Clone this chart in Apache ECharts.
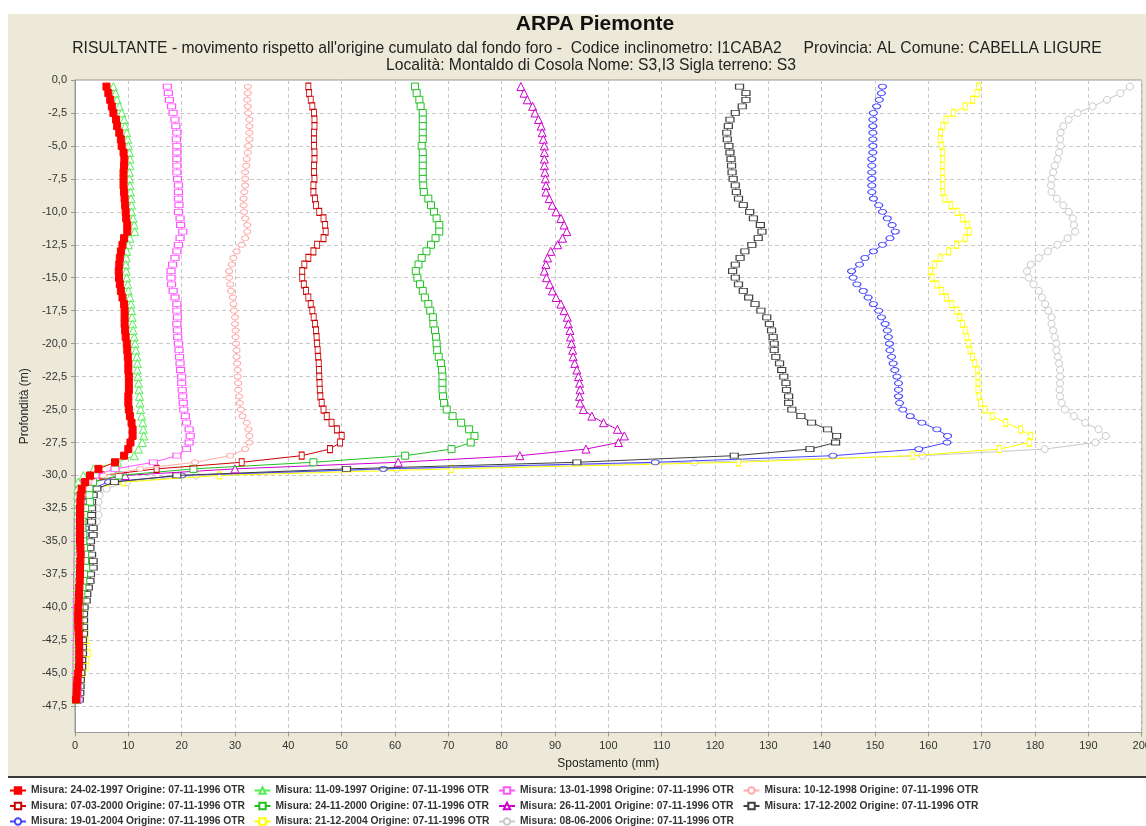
<!DOCTYPE html>
<html><head><meta charset="utf-8">
<script src="https://cdn.jsdelivr.net/npm/echarts@6/dist/echarts.min.js"></script>
<style>
html,body{margin:0;padding:0;background:#fff;overflow:hidden}
#panel{position:absolute;left:8px;top:14px;width:1146px;height:762px;background:#ECE9D8;border-bottom:2px solid #3a3a3a}
#c{position:absolute;left:0;top:0;width:1146px;height:826px}
</style>
</head><body><div id="panel"></div><div id="c"></div>
<script>
// depth of each reading (m)
const depths = [-0.5,-1.0,-1.5,-2.0,-2.5,-3.0,-3.5,-4.0,-4.5,-5.0,-5.5,-6.0,-6.5,-7.0,-7.5,-8.0,-8.5,-9.0,-9.5,-10.0,
-10.5,-11.0,-11.5,-12.0,-12.5,-13.0,-13.5,-14.0,-14.5,-15.0,-15.5,-16.0,-16.5,-17.0,-17.5,-18.0,-18.5,-19.0,-19.5,-20.0,
-20.5,-21.0,-21.5,-22.0,-22.5,-23.0,-23.5,-24.0,-24.5,-25.0,-25.5,-26.0,-26.5,-27.0,-27.5,-28.0,-28.5,-29.0,-29.5,-30.0,
-30.5,-31.0,-31.5,-32.0,-32.5,-33.0,-33.5,-34.0,-34.5,-35.0,-35.5,-36.0,-36.5,-37.0,-37.5,-38.0,-38.5,-39.0,-39.5,-40.0,
-40.5,-41.0,-41.5,-42.0,-42.5,-43.0,-43.5,-44.0,-44.5,-45.0,-45.5,-46.0,-46.5,-47.0];

const seriesNames = [
 'Misura: 24-02-1997 Origine: 07-11-1996 OTR','Misura: 11-09-1997 Origine: 07-11-1996 OTR',
 'Misura: 13-01-1998 Origine: 07-11-1996 OTR','Misura: 10-12-1998 Origine: 07-11-1996 OTR',
 'Misura: 07-03-2000 Origine: 07-11-1996 OTR','Misura: 24-11-2000 Origine: 07-11-1996 OTR',
 'Misura: 26-11-2001 Origine: 07-11-1996 OTR','Misura: 17-12-2002 Origine: 07-11-1996 OTR',
 'Misura: 19-01-2004 Origine: 07-11-1996 OTR','Misura: 21-12-2004 Origine: 07-11-1996 OTR',
 'Misura: 08-06-2006 Origine: 07-11-1996 OTR'];

const m19970224 = [5.9,6.25,6.6,6.9,7.2,7.7,7.9,8.3,8.6,8.75,9.1,9.25,9.2,9.1,9.1,9.1,9.2,9.3,9.4,9.5,
9.6,9.8,9.8,9.2,8.9,8.6,8.4,8.3,8.2,8.25,8.4,8.6,8.9,9.2,9.3,9.3,9.3,9.4,9.5,9.7,
9.8,9.9,10.0,10.0,10.1,10.1,10.1,10.0,10.0,10.1,10.3,10.6,10.8,10.8,10.4,10.0,9.2,7.5,4.4,2.8,
1.9,1.25,1.06,1.0,0.94,0.94,0.94,0.94,0.94,0.94,1.0,1.06,1.0,0.94,0.94,0.88,0.8,0.75,0.7,0.62,
0.6,0.6,0.62,0.7,0.75,0.8,0.8,0.8,0.75,0.6,0.45,0.35,0.3,0.2];
const m19970911 = [7.2,7.6,7.9,8.3,8.75,9.2,9.4,9.7,9.9,10.0,10.2,10.3,10.3,10.2,10.2,10.3,10.4,10.5,10.6,10.6,
10.9,11.1,11.2,10.3,10.0,9.7,9.6,9.5,9.6,9.7,9.9,10.0,10.3,10.5,10.6,10.7,10.8,10.9,11.1,11.25,
11.4,11.6,11.7,11.7,11.8,11.9,12.0,12.1,12.2,12.3,12.5,12.7,12.8,12.9,12.6,11.9,11.1,8.0,3.5,1.56,
0.6,0.5,0.45,0.45,0.45,0.45,0.5,0.5,0.5,0.5,0.5,0.5,0.5,0.45,0.45,0.4,0.4,0.4,0.4,0.35,
0.35,0.35,0.35,0.35,0.35,0.35,0.35,0.3,0.3,0.3,0.25,0.25,0.2,0.2];
const m19980113 = [17.3,17.5,17.7,18.1,18.4,18.75,18.9,19.1,19.0,19.1,19.1,19.1,19.1,19.1,19.2,19.4,19.4,19.4,19.5,19.4,
19.7,19.8,20.2,19.7,19.4,19.1,18.75,18.3,18.0,18.0,18.1,18.4,18.75,19.1,19.1,19.2,19.1,19.2,19.25,19.4,
19.5,19.6,19.7,19.8,20.0,20.0,20.1,20.2,20.3,20.4,20.7,20.9,21.4,21.6,21.4,20.9,19.1,14.7,7.5,3.75,
1.8,1.0,0.8,0.7,0.7,0.65,0.6,0.6,0.6,0.6,0.6,0.6,0.55,0.55,0.5,0.5,0.5,0.5,0.45,0.45,
0.45,0.45,0.45,0.45,0.45,0.4,0.4,0.4,0.4,0.4,0.35,0.35,0.35,0.3];
const m19981210 = [32.4,32.4,32.3,32.4,32.5,32.7,32.7,32.7,32.7,32.5,32.4,32.2,32.1,31.9,31.9,31.9,31.75,31.6,31.6,31.7,
31.9,32.3,32.3,31.9,31.25,30.3,29.7,29.4,28.9,28.9,29.1,29.25,29.6,29.7,29.8,30.0,30.0,30.1,30.1,30.2,
30.3,30.3,30.4,30.5,30.5,30.6,30.6,30.75,30.9,31.1,31.4,32.2,32.5,32.7,32.7,31.9,29.1,22.5,12.2,5.3,
2.5,1.5,1.3,1.2,1.2,1.2,1.15,1.1,1.1,1.1,1.1,1.1,1.05,1.0,1.0,0.95,0.9,0.9,0.85,0.85,
0.8,0.8,0.8,0.8,0.8,0.75,0.7,0.7,0.65,0.6,0.55,0.5,0.45,0.4];
const m20000307 = [43.75,43.9,44.2,44.5,44.8,44.9,44.9,44.8,44.8,44.8,44.9,44.9,44.8,44.8,44.9,44.7,44.7,45.0,45.2,45.8,
46.6,46.9,47.0,46.6,45.4,44.7,43.75,43.0,42.6,42.6,42.9,43.3,43.75,44.2,44.5,44.75,45.0,45.2,45.3,45.4,
45.5,45.6,45.7,45.75,45.8,45.85,45.9,46.0,46.25,46.6,47.2,48.1,49.1,50.0,49.7,47.8,42.5,31.25,15.3,5.0,
2.0,1.4,1.2,1.1,1.1,1.1,1.05,1.0,1.0,1.0,1.0,1.0,1.0,0.95,0.9,0.9,0.9,0.85,0.85,0.8,
0.8,0.8,0.75,0.75,0.75,0.7,0.7,0.65,0.6,0.55,0.5,0.45,0.4,0.35];
const m20001124 = [63.75,64.06,64.56,64.8,65.2,65.2,65.2,65.2,65.2,65.0,65.2,65.2,65.2,65.2,65.2,65.3,65.4,66.25,66.75,67.3,
67.8,68.3,68.3,67.6,66.75,65.9,65.0,64.4,63.9,64.2,64.7,65.2,65.6,66.25,66.6,67.1,67.2,67.5,67.7,67.8,
67.9,68.2,68.6,68.8,68.9,68.9,68.9,69.0,69.2,69.7,70.8,72.4,73.9,74.9,74.2,70.6,61.9,44.7,22.2,8.2,
3.4,2.7,2.7,2.8,1.9,1.7,1.4,1.4,1.56,1.56,1.7,1.9,1.9,2.1,1.7,1.56,1.4,1.2,1.0,0.9,
0.85,0.8,0.8,0.75,0.75,0.7,0.7,0.65,0.6,0.55,0.5,0.45,0.4,0.35];
const m20011126 = [83.6,84.2,84.8,85.8,86.25,86.9,87.4,87.6,87.8,88.0,88.0,88.0,88.0,88.1,88.2,88.3,88.3,88.9,89.5,90.2,
91.1,91.7,92.2,91.4,90.5,89.2,88.6,88.3,88.0,88.4,89.0,89.5,90.2,91.1,91.7,92.3,92.5,92.8,92.9,93.1,
93.3,93.4,93.7,94.1,94.4,94.6,94.7,94.6,94.7,95.3,96.9,99.1,101.7,103.0,101.9,95.8,83.4,60.6,30.0,9.4,
3.0,1.6,1.3,1.2,1.1,1.1,1.0,1.0,1.0,1.0,1.0,0.95,0.95,0.9,0.9,0.85,0.85,0.8,0.8,0.8,
0.75,0.75,0.7,0.7,0.7,0.65,0.65,0.6,0.6,0.55,0.5,0.45,0.45,0.4];
const m20021217 = [124.6,125.8,125.8,125.1,123.8,122.8,122.5,122.2,122.3,122.6,122.8,123.0,123.1,123.2,123.4,123.8,124.0,124.4,125.3,126.5,
127.2,128.5,128.8,128.1,126.9,125.6,124.7,123.8,123.3,123.8,124.4,125.3,126.3,127.5,128.6,129.7,130.2,130.6,130.9,131.1,
131.1,131.4,132.1,132.5,132.9,133.3,133.4,133.8,133.8,134.4,136.1,138.1,141.1,142.8,142.6,137.8,123.6,94.1,50.9,19.1,
7.4,4.1,3.4,3.1,3.1,3.1,3.1,3.4,3.4,2.9,2.8,3.1,3.4,3.4,2.9,2.8,2.5,2.2,2.1,1.7,
1.6,1.6,1.6,1.6,1.4,1.4,1.4,1.25,1.25,1.1,1.0,0.95,0.9,0.8];
const m20040119 = [151.4,151.2,150.8,150.3,149.7,149.6,149.6,149.6,149.6,149.6,149.6,149.4,149.4,149.4,149.4,149.4,149.4,149.7,150.7,151.4,
152.3,153.2,153.8,152.8,151.4,149.7,148.1,147.1,145.6,145.9,146.6,147.8,148.7,149.7,150.7,151.2,151.9,152.3,152.5,152.7,
152.8,153.1,153.4,153.7,154.1,154.4,154.4,154.4,154.6,155.2,156.6,158.8,161.6,163.6,163.5,158.2,142.1,108.8,57.8,20.0,
6.3,3.2,2.6,2.3,2.1,2.0,1.9,1.9,1.9,1.8,1.8,1.8,1.8,1.7,1.7,1.6,1.5,1.4,1.3,1.2,
1.1,1.1,1.0,1.0,0.95,0.9,0.85,0.8,0.75,0.7,0.65,0.6,0.55,0.5];
const m20041221 = [169.4,169.1,168.3,166.9,164.7,163.3,162.7,162.3,162.2,162.5,162.7,162.7,162.6,162.6,162.7,162.7,162.7,163.1,164.2,165.4,
166.4,167.3,167.7,166.9,165.3,163.8,162.2,161.1,160.4,160.7,161.6,162.5,163.4,164.4,165.3,165.9,166.4,166.9,167.2,167.5,
167.8,168.3,168.7,169.2,169.3,169.3,169.3,169.5,169.8,170.6,172.0,174.5,177.3,179.2,178.9,173.3,157.1,124.4,70.6,27.1,
9.1,3.5,2.5,2.1,1.9,1.8,1.8,1.7,1.7,1.7,1.7,1.7,1.7,1.7,1.7,1.7,1.7,1.7,1.7,1.7,
1.6,1.6,1.8,1.9,2.1,2.3,2.5,2.2,2.1,1.5,1.0,0.7,0.5,0.4];
const m20060608 = [197.8,196.0,193.5,190.8,188.0,186.3,185.3,184.8,184.7,184.8,184.5,184.2,183.7,183.4,183.1,183.0,183.1,184.1,185.3,186.3,
187.1,187.3,187.5,186.1,184.2,182.4,180.7,179.2,178.5,178.8,179.7,180.7,181.3,181.9,182.5,183.1,183.1,183.4,183.7,184.0,
184.0,184.3,184.5,184.7,184.7,184.7,184.6,184.7,185.0,185.6,187.3,189.4,191.9,193.3,191.3,181.8,158.9,116.1,60.3,22.7,
9.7,5.9,4.6,4.4,4.2,4.4,4.1,3.4,3.2,3.0,2.9,2.9,3.0,3.0,2.8,2.6,2.3,2.0,1.8,1.6,
1.4,1.3,1.2,1.1,1.0,1.0,0.9,0.85,0.8,0.75,0.7,0.6,0.5,0.4];

const seriesValues = [m19970224,m19970911,m19980113,m19981210,m20000307,m20001124,m20011126,m20021217,m20040119,m20041221,m20060608];

const xTickLabels = ['0','10','20','30','40','50','60','70','80','90','100','110','120','130','140','150','160','170','180','190','200'];
const yTickLabels = ['0,0','-2,5','-5,0','-7,5','-10,0','-12,5','-15,0','-17,5','-20,0','-22,5','-25,0','-27,5','-30,0','-32,5','-35,0','-37,5','-40,0','-42,5','-45,0','-47,5'];

const ELL = 'path://M1,0 C1,0.552 0.552,1 0,1 C-0.552,1 -1,0.552 -1,0 C-1,-0.552 -0.552,-1 0,-1 C0.552,-1 1,-0.552 1,0 Z';
const styles = [
  {c:'#FF0000', sym:'rect', size:[7,7], filled:true},
  {c:'#55EE55', sym:'triangle', size:[8,8]},
  {c:'#FF55FF', sym:'rect', size:[8,5]},
  {c:'#FFAAAA', sym:ELL, size:[7,5]},
  {c:'#CC0000', sym:'rect', size:[5,7]},
  {c:'#20C020', sym:'rect', size:[7,7]},
  {c:'#CC00CC', sym:'triangle', size:[8,8]},
  {c:'#404040', sym:'rect', size:[8,5]},
  {c:'#4646FF', sym:ELL, size:[8,5]},
  {c:'#FFFF00', sym:'rect', size:[4,7]},
  {c:'#C8C8C8', sym:ELL, size:[7,7]}
];

const FONT = '"Liberation Sans", Arial, sans-serif';

const series = seriesNames.map((name, i) => ({
  name: name,
  type: 'line',
  data: seriesValues[i].map((v, k) => [v, -depths[k]]),
  symbol: styles[i].sym,
  symbolSize: styles[i].size,
  showSymbol: true,
  showAllSymbol: true,
  z: 20 - i,
  lineStyle: {color: styles[i].c, width: 1},
  itemStyle: {color: styles[i].filled ? styles[i].c : '#ffffff', borderColor: styles[i].c, borderWidth: 1},
  emphasis: {disabled: true},
  animation: false
}));

const legends = seriesNames.map((name, i) => ({
  data: [name],
  left: 9 + (i % 4) * 244.5,
  top: 785.5 + Math.floor(i / 4) * 15.5,
  itemWidth: 16, itemHeight: 8, itemGap: 5,
  padding: 0,
  selectedMode: false,
  textStyle: {fontSize: 10.3, fontWeight: 'bold', color: '#333', fontFamily: FONT}
}));

const chart = echarts.init(document.getElementById('c'), null, {renderer: 'canvas'});
chart.setOption({
  backgroundColor: 'transparent',
  animation: false,
  textStyle: {fontFamily: FONT},
  graphic: [
    {type:'text', x: 595, y: 24, z: 100, style:{text:'ARPA Piemonte', textAlign:'center', textVerticalAlign:'middle', font:'bold 21px ' + FONT, fill:'#111'}},
    {type:'text', x: 587, y: 48.5, z: 100, style:{text:"RISULTANTE - movimento rispetto all'origine cumulato dal fondo foro -  Codice inclinometro: I1CABA2     Provincia: AL Comune: CABELLA LIGURE", textAlign:'center', textVerticalAlign:'middle', font:'15.7px ' + FONT, fill:'#222'}},
    {type:'text', x: 591, y: 65.5, z: 100, style:{text:'Località: Montaldo di Cosola Nome: S3,I3 Sigla terreno: S3', textAlign:'center', textVerticalAlign:'middle', font:'15.7px ' + FONT, fill:'#222'}}
  ],
  legend: legends,
  grid: {left: 75, top: 80, width: 1066.7, height: 652.5, show: true, backgroundColor: '#ffffff', borderColor: '#999', borderWidth: 1, containLabel: false, outerBoundsMode: 'none'},
  xAxis: {
    type: 'value', min: 0, max: 200, interval: 10,
    name: 'Spostamento (mm)', nameLocation: 'middle', nameGap: 25,
    nameTextStyle: {fontSize: 12, color: '#222', fontFamily: FONT},
    axisLine: {show: true, onZero: false, lineStyle: {color: '#999'}},
    axisTick: {show: true, length: 4, lineStyle: {color: '#999'}},
    axisLabel: {fontSize: 11, color: '#333', margin: 8, formatter: (v) => xTickLabels[Math.round(v / 10)] ?? ''},
    splitLine: {show: true, lineStyle: {color: '#c8c8c8', type: [4, 3], width: 1}}
  },
  yAxis: {
    type: 'value', inverse: true, min: 0, max: 49.5, interval: 2.5,
    name: 'Profondità (m)', nameLocation: 'middle', nameGap: 36, nameRotate: 90,
    nameTextStyle: {fontSize: 12, color: '#222', fontFamily: FONT},
    axisLine: {show: true, onZero: false, lineStyle: {color: '#999'}},
    axisTick: {show: true, length: 4, lineStyle: {color: '#999'}},
    axisLabel: {fontSize: 11, color: '#333', margin: 8, showMaxLabel: false,
      formatter: (v) => { const k = Math.round(v / 2.5); return Math.abs(k * 2.5 - v) < 1e-6 ? (yTickLabels[k] ?? '') : ''; }},
    splitLine: {show: true, lineStyle: {color: '#c8c8c8', type: [4, 3], width: 1}}
  },
  series: series
});
</script>
</body></html>
